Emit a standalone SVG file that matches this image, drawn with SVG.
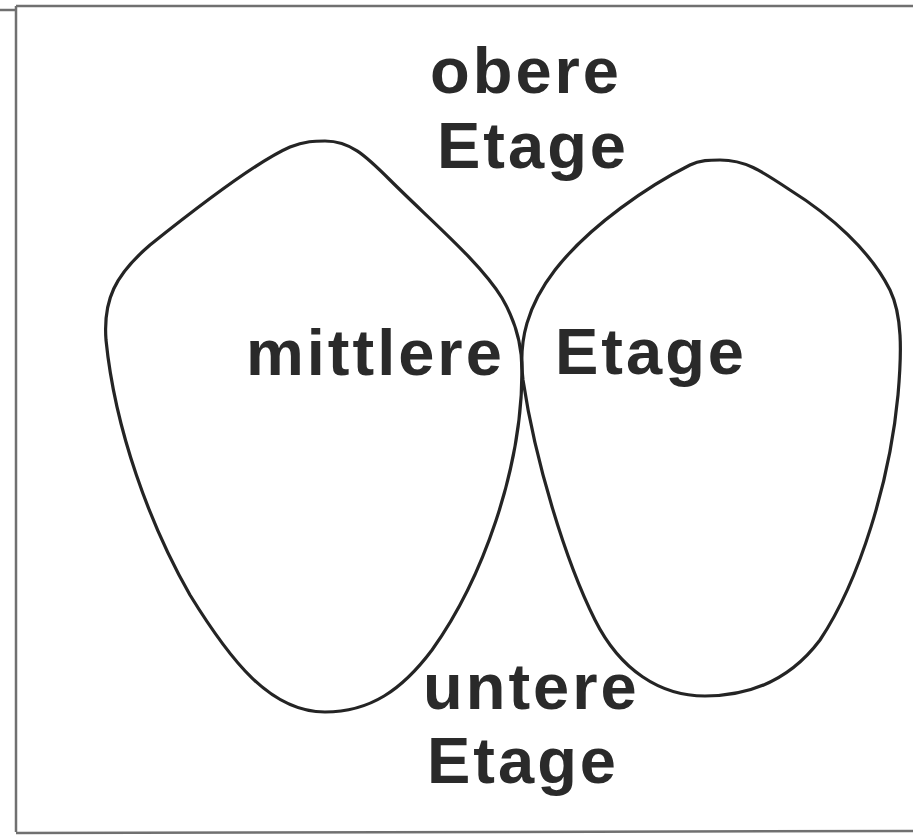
<svg xmlns="http://www.w3.org/2000/svg" width="913" height="836" viewBox="0 0 913 836">
<style>
.frame{stroke:#707070;stroke-width:2.5;fill:none}
.lobe{fill:none;stroke:#242424;stroke-width:3.2;stroke-linejoin:round}
.lbl{font-family:"Liberation Sans",Arial,Helvetica,sans-serif;font-weight:bold;font-size:65px;letter-spacing:3px;fill:#2a2a2a}
</style>
<rect width="913" height="836" fill="#ffffff"/>
<g id="frame">
<line class="frame" x1="16" y1="6" x2="913" y2="6"/>
<line class="frame" x1="0" y1="10" x2="16" y2="10"/>
<line class="frame" x1="16" y1="6" x2="16" y2="832"/>
<line class="frame" x1="16" y1="833" x2="913" y2="831"/>
</g>
<g id="left-lobe">
<path class="lobe" d="M 325 141 C 350 141 365 155 390 180 C 430 220 480 262 502 298 C 516 322 522 345 522 370 C 522 470 482 580 432 650 C 402 690 370 712 325 712 C 270 712 230 660 190 595 C 150 525 115 430 106 340 C 103 300 115 275 150 245 C 200 205 260 160 290 147 C 305 141 315 141 325 141 Z"/>
</g>
<g id="right-lobe">
<path class="lobe" d="M 720 160 C 745 160 760 170 790 190 C 830 215 870 250 890 290 C 902 315 902 350 898 395 C 890 480 860 580 820 640 C 790 680 750 696 705 696 C 660 696 620 670 595 620 C 565 560 535 460 523 380 C 518 340 528 305 555 270 C 590 225 650 185 690 165 C 700 160 710 160 720 160 Z"/>
</g>
<g id="labels">
<text class="lbl" x="430" y="93">obere</text>
<text class="lbl" x="437" y="168">Etage</text>
<text class="lbl" x="246" y="375">mittlere</text>
<text class="lbl" x="555" y="374">Etage</text>
<text class="lbl" x="423" y="709">untere</text>
<text class="lbl" x="427" y="783">Etage</text>
</g>
</svg>
